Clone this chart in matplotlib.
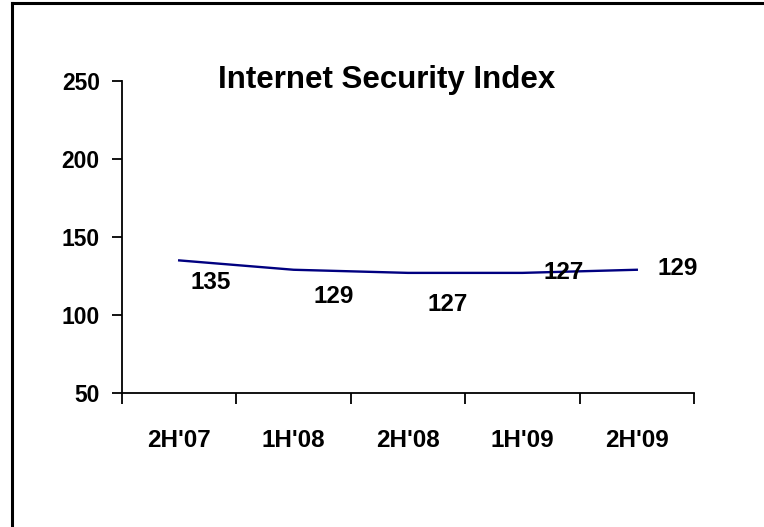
import matplotlib
matplotlib.use("Agg")
import matplotlib.pyplot as plt
from matplotlib.lines import Line2D

plt.rcParams['font.family'] = ['Liberation Sans', 'DejaVu Sans']
plt.rcParams['font.weight'] = 'bold'

# half-year periods and index values
periods = ["2H'07", "1H'08", "2H'08", "1H'09", "2H'09"]
index_values = [135, 129, 127, 127, 129]
# label offsets from each point, pixels
label_dx = [31, 40, 40, 41, 41]
label_dy = [-22, -27, -32, 0, 1]

W, H, DPI = 764, 527, 100
fig = plt.figure(figsize=(W / DPI, H / DPI), dpi=DPI)

# axes box in pixels: left 122, right 694, top 81, bottom 393
ax = fig.add_axes([122 / W, 1 - 393 / H, (694 - 122) / W, (393 - 81) / H])

x = list(range(len(periods)))
ax.plot(x, index_values, color='#000080', lw=1.7)

for xi, v, dx, dy in zip(x, index_values, label_dx, label_dy):
    ax.annotate(str(v), (xi, v), xytext=(dx, dy), textcoords='offset pixels',
                ha='center', va='center', fontsize=17.5, fontweight='bold')

ax.set_xlim(-0.5, len(periods) - 0.5)
ax.set_ylim(50, 250)
ax.set_yticks([50, 100, 150, 200, 250])

# category boundaries get the tick marks, labels sit between them
ax.set_xticks([i - 0.5 for i in range(len(periods) + 1)])
ax.set_xticklabels([])
ax.set_xticks(x, minor=True)
ax.set_xticklabels(periods, minor=True)
ax.tick_params(axis='x', which='major', direction='out', length=8, width=1.3)
ax.tick_params(axis='x', which='minor', length=0, pad=26, labelsize=17.5)
ax.tick_params(axis='y', direction='out', length=7, width=1.3, pad=9, labelsize=16.5)

for s in ['top', 'right']:
    ax.spines[s].set_visible(False)
for s in ['left', 'bottom']:
    ax.spines[s].set_linewidth(1.3)

fig.text(387 / W, 1 - 88 / H, 'Internet Security Index', ha='center', va='baseline',
         fontsize=22.5, fontweight='bold')

# frame lines along the top and left edges
fig.add_artist(Line2D([12 / W, 1], [1 - 3 / H, 1 - 3 / H], color='black', lw=2.2,
                      transform=fig.transFigure))
fig.add_artist(Line2D([12 / W, 12 / W], [0, 1 - 3 / H], color='black', lw=2.2,
                      transform=fig.transFigure))

fig.savefig('out.png', dpi=DPI)
